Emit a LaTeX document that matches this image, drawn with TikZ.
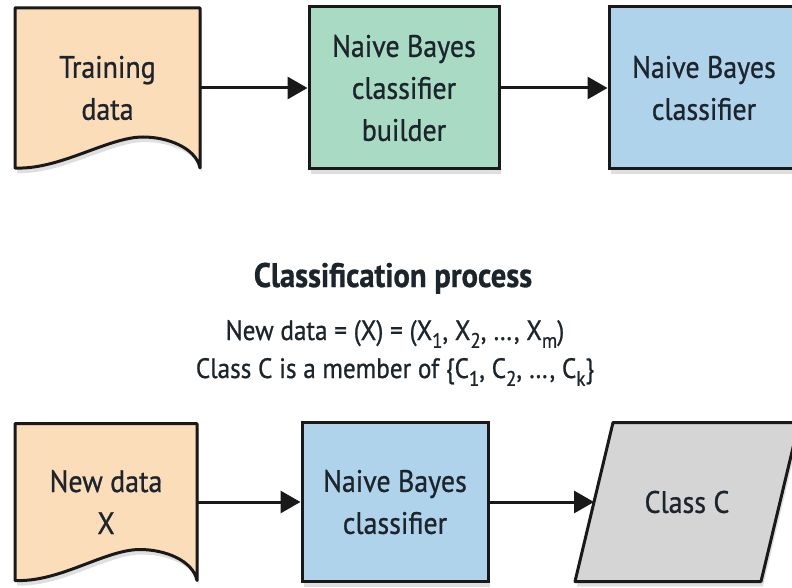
\documentclass[tikz,border=0pt]{standalone}
\usepackage{fontspec}
\setmainfont{PT Sans}[FakeStretch=0.9, FakeBold=0.8]
\usetikzlibrary{arrows.meta,shadows,backgrounds,calc}
\definecolor{peach}{RGB}{252,221,186}
\definecolor{mint}{RGB}{168,218,196}
\definecolor{skyblue}{RGB}{176,211,236}
\definecolor{slate}{RGB}{213,213,213}
\definecolor{ink}{RGB}{28,36,44}
\newcommand{\lowidx}[1]{\raisebox{-0.28em}{\fontsize{21}{21}\selectfont #1}}

\begin{document}
\begin{tikzpicture}[x=1pt, y=-1pt, text=ink, font=\fontsize{31}{42}\selectfont]
	\tikzstyle{shadowed} = [drop shadow={shadow xshift=2pt, shadow yshift=-5pt, opacity=0.25}]
	\tikzstyle{box}      = [rectangle, draw=black!90, line width=3pt, align=center, shadowed]
	\tikzstyle{doc}      = [rectangle, align=center, outer sep=0pt]
	\tikzstyle{outline}  = [draw=black!90, line width=3pt, line join=round, shadowed]
	\tikzstyle{caption}  = [anchor=base, align=center, font=\fontsize{28}{38}\selectfont]
	\tikzstyle{flow}     = [-{Triangle[length=20pt, width=22pt]}, draw=black!90, line width=3pt]

	\useasboundingbox (0,0) rectangle (792,588);

	% learning row
	\node[doc, minimum width=185, minimum height=160] (train) at (107.5,88) {Training\\data};
	\node[box, fill=mint, minimum width=190, minimum height=162] (builder) at (404,88) {Naive Bayes\\classifier\\builder};
	\node[box, fill=skyblue, minimum width=190, minimum height=162] (model) at (704,88) {Naive Bayes\\classifier};

	% classification row
	\node[caption, font=\fontsize{34}{40}\selectfont\bfseries] (heading) at (393,287) {Classification process};
	\node[caption] (newdef) at (395,340) {New data = (X) = (X\lowidx{1}, X\lowidx{2}, …, X\lowidx{m})};
	\node[caption] (classdef) at (395,378) {Class C is a member of \{C\lowidx{1}, C\lowidx{2}, …, C\lowidx{k}\}};

	\node[doc, minimum width=182, minimum height=157] (newdata) at (106,502) {New data\\X};
	\node[box, fill=skyblue, minimum width=186, minimum height=159] (classify) at (395,502) {Naive Bayes\\classifier};
	\node[doc, minimum width=186, minimum height=159] (result) at (687,502) {Class C};

	\begin{pgfonlayer}{background}
		\foreach \n in {train, newdata}
			\draw[outline, fill=peach] (\n.south west) -- (\n.north west) -- (\n.north east) -- (\n.south east)
				.. controls ($(\n.south east)+(-4,-20)$) and ($(\n.south east)+(-32,-31)$) .. ($(\n.south east)+(-57,-31)$)
				.. controls ($(\n.south east)+(-92,-31)$) and ($(\n.south west)+(45,2)$) .. (\n.south west) -- cycle;
		\draw[outline, fill=slate] ($(result.south west)+(-19,0)$) -- ($(result.north west)+(19,0)$)
			-- ($(result.north east)+(19,0)$) -- ($(result.south east)+(-19,0)$) -- cycle;
	\end{pgfonlayer}

	\foreach \from/\to in {train/builder, builder/model, newdata/classify, classify/result}
		\draw[flow] (\from) -- (\to);

\end{tikzpicture}
\end{document}
